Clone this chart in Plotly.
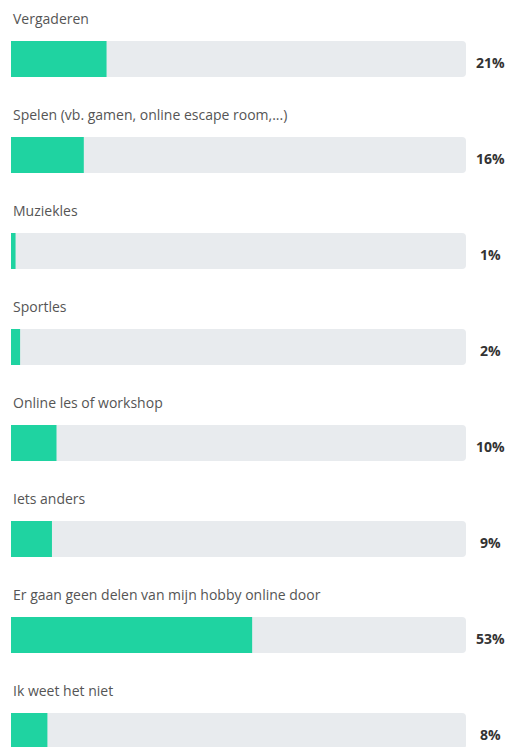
import plotly.graph_objects as go

categories = [
    "Vergaderen",
    "Spelen (vb. gamen, online escape room,...)",
    "Muziekles",
    "Sportles",
    "Online les of workshop",
    "Iets anders",
    "Er gaan geen delen van mijn hobby online door",
    "Ik weet het niet",
]
values = [21, 16, 1, 2, 10, 9, 53, 8]
value_labels = ["21%", "16%", "1%", "2%", "10%", "9%", "53%", "8%"]

W, H = 510, 747
ROW = 96
BAR_TOP = 41
BAR_H = 36
LABEL_Y = 18
GREEN = "#1fd3a1"
TRACK = "#e8ebee"
FONT = "Open Sans"

centers = [BAR_TOP + BAR_H / 2 + ROW * i for i in range(len(categories))]

fig = go.Figure()
fig.add_trace(go.Bar(
    x=[100] * len(categories), y=centers, orientation="h", width=BAR_H,
    marker=dict(color=TRACK, line=dict(width=0)), hoverinfo="skip", showlegend=False,
))
fig.add_trace(go.Bar(
    x=values, y=centers, orientation="h", width=BAR_H,
    marker=dict(color=GREEN, line=dict(width=0)), hoverinfo="skip", showlegend=False,
))

annotations = []
for i, (cat, lab) in enumerate(zip(categories, value_labels)):
    annotations.append(dict(
        x=0, y=LABEL_Y + ROW * i, xref="x", yref="y", text=cat, showarrow=False,
        xanchor="left", yanchor="middle", font=dict(family=FONT, size=14, color="#555555"),
    ))
    annotations.append(dict(
        x=100, y=centers[i] + 3.5, xref="x", yref="y", text=f"<b>{lab}</b>", showarrow=False,
        xanchor="center", yanchor="middle", xshift=24,
        font=dict(family=FONT, size=14, color="#333333"),
    ))

fig.update_layout(
    width=W, height=H,
    margin=dict(l=11, r=W - 466, t=0, b=0),
    paper_bgcolor="white", plot_bgcolor="white",
    barmode="overlay", barcornerradius=4,
    xaxis=dict(range=[0, 100], visible=False, fixedrange=True),
    yaxis=dict(range=[H, 0], visible=False, fixedrange=True),
    annotations=annotations,
)

fig.write_html(
    "out.html",
    config={"displayModeBar": False},
    post_script="document.body.style.margin='0';document.body.style.overflow='hidden';",
)
